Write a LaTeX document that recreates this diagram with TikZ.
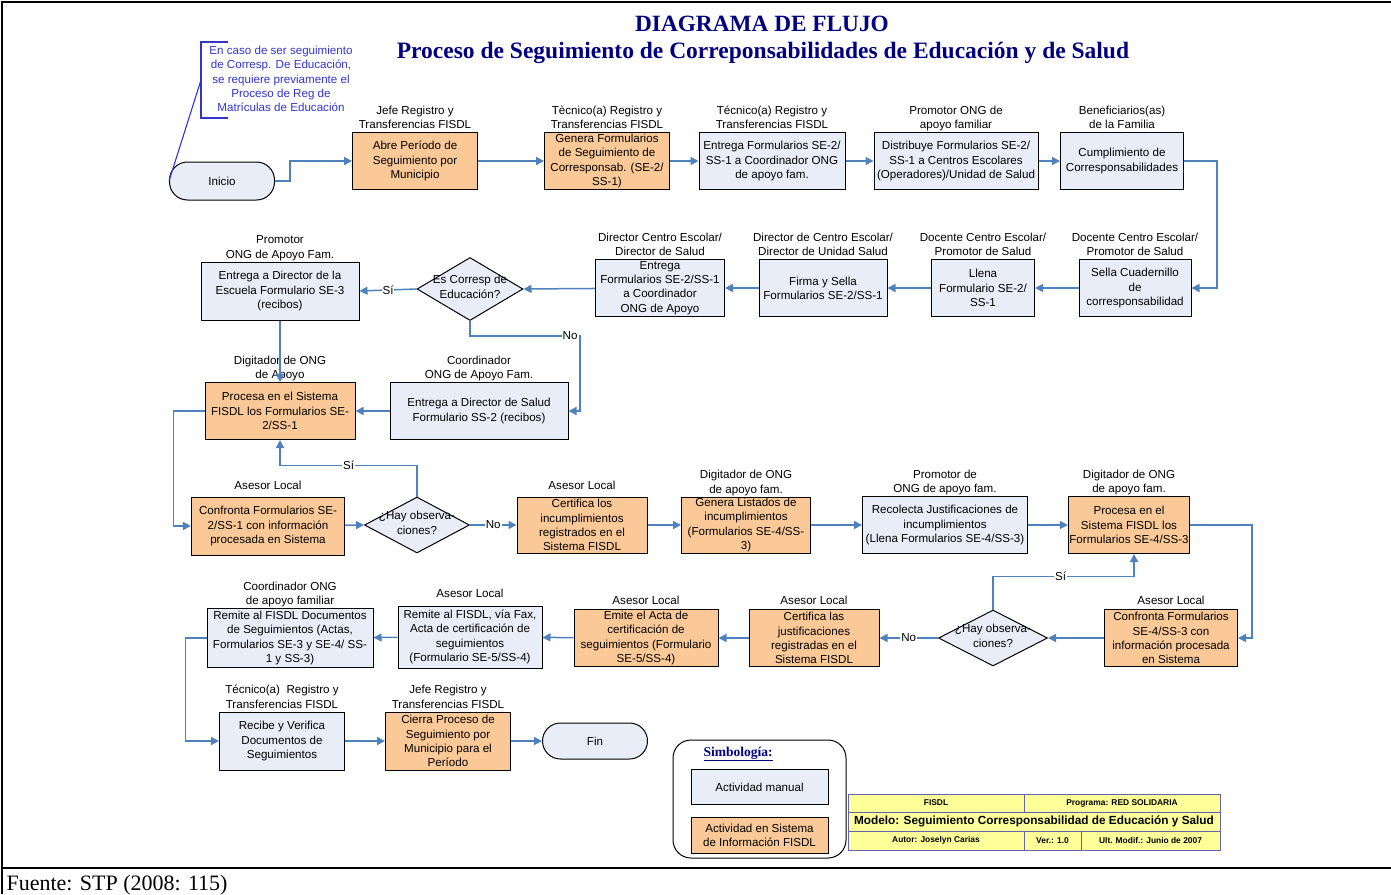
\documentclass[tikz,border=0pt]{standalone}
\usepackage{fontspec}
\setmainfont{Liberation Sans}
\newfontfamily\serifa{Liberation Serif}
\usetikzlibrary{arrows.meta, shapes.geometric}

\definecolor{celeste}{HTML}{E8EDF7}
\definecolor{naranja}{HTML}{FBC997}
\definecolor{azulflecha}{HTML}{4F81BD}
\definecolor{azulnota}{HTML}{3434C8}
\definecolor{marino}{HTML}{000080}
\definecolor{amarillo}{HTML}{FFFF99}
\definecolor{bordetabla}{HTML}{6464AA}

\begin{document}
\begin{tikzpicture}[
                > = {Triangle[length = 8pt, width = 8pt]}, % arrow head style
                x = 1pt, y = -1pt, % one unit per pixel, y going down
                label distance = -1pt, % roles sit right on the boxes
                every label/.style = {align = center, inner sep = 0pt,
                font = {\fontsize{11.6}{14.3}\selectfont},
                execute at end node = {\strut}}
            ]

            \useasboundingbox (0,0) rectangle (1391,894);

            \tikzstyle{caja}=[draw = black, line width = 1pt, rectangle,
            align = center, inner sep = 1pt, font = {\fontsize{11.6}{14.3}\selectfont}]
            \tikzstyle{manual}=[caja, fill = celeste]
            \tikzstyle{sistema}=[caja, fill = naranja]
            \tikzstyle{terminal}=[caja, fill = celeste, rounded corners = 18pt,
            minimum width = 105pt]
            \tikzstyle{decision}=[draw = black, line width = 1pt, diamond,
            fill = celeste, inner sep = 0pt]
            \tikzstyle{pregunta}=[execute at end node = {}]
            \tikzstyle{flujo}=[->, draw = azulflecha, line width = 1.5pt]
            \tikzstyle{etiqueta}=[fill = white, inner sep = 1pt,
            font = {\fontsize{11.6}{14.3}\selectfont}]
            \tikzstyle{celda}=[draw = bordetabla, line width = 1pt, fill = amarillo,
            inner sep = 0pt, font = {\bfseries\fontsize{8.4}{10}\selectfont}]
            \tikzstyle{nota}=[draw = azulnota, line width = 1.1pt]

            % frame, title and source
            \draw[line width = 1.2pt] (1391,2) -- (2,2) -- (2,894); \draw[line width = 1.4pt] (2,868) -- (1391,868);
            \node (t1) [font = {\serifa\bfseries\fontsize{23.3}{26}\selectfont}, text = marino] at (762,24) {DIAGRAMA DE FLUJO};
            \node (t2) [font = {\serifa\bfseries\fontsize{23.5}{26}\selectfont}, text = marino] at (763,53)
            {Proceso de Seguimiento de Correponsabilidades de Educación y de Salud};
            \node (f) [anchor = base west, font = {\serifa\fontsize{22}{24}\selectfont}] at (3,890) {Fuente: STP (2008: 115)};

            % note
            \node (0) [align = center, text = azulnota, font = {\fontsize{11.6}{14.3}\selectfont}] at (281,79)
            {En caso de ser seguimiento\\de Corresp. De Educación,\\se requiere previamente el\\Proceso de Reg de\\Matrículas de Educación};
            \draw[nota] (228,42) -- (201,42) -- (201,118) -- (228,118);
            \coordinate (n0) at (201,80);

            % first row
            \node (1) [terminal, minimum height = 38pt] at (222,181) {Inicio};
            \node (2) [sistema, minimum width = 125pt, minimum height = 57pt,
            label = {above:{Jefe Registro y\\Transferencias FISDL}}] at (415,161)
            {Abre Período de\\Seguimiento por\\Municipio};
            \node (3) [sistema, minimum width = 125pt, minimum height = 57pt,
            label = {above:{Tècnico(a) Registro y\\Transferencias FISDL}}] at (607,161)
            {Genera Formularios\\de Seguimiento de\\Corresponsab. (SE-2/\\SS-1)};
            \node (4) [manual, minimum width = 146pt, minimum height = 57pt,
            label = {above:{Técnico(a) Registro y\\Transferencias FISDL}}] at (772,161)
            {Entrega Formularios SE-2/\\SS-1 a Coordinador ONG\\de apoyo fam.};
            \node (5) [manual, minimum width = 164pt, minimum height = 57pt,
            label = {above:{Promotor ONG de\\apoyo familiar}}] at (956,161)
            {Distribuye Formularios SE-2/\\SS-1 a Centros Escolares\\(Operadores)/Unidad de Salud};
            \node (6) [manual, minimum width = 123pt, minimum height = 57pt,
            label = {above:{Beneficiarios(as)\\de la Familia}}] at (1122,161)
            {Cumplimiento de\\Corresponsabilidades};

            % second row
            \node (7) [manual, minimum width = 112pt, minimum height = 57pt,
            label = {above:{Docente Centro Escolar/\\Promotor de Salud}}] at (1135,288)
            {Sella Cuadernillo\\de\\corresponsabilidad};
            \node (8) [manual, minimum width = 103pt, minimum height = 57pt,
            label = {above:{Docente Centro Escolar/\\Promotor de Salud}}] at (983,288)
            {Llena\\Formulario SE-2/\\SS-1};
            \node (9) [manual, minimum width = 128pt, minimum height = 57pt,
            label = {above:{Director de Centro Escolar/\\Director de Unidad Salud}}] at (823,288)
            {Firma y Sella\\Formularios SE-2/SS-1};
            \node (10) [manual, minimum width = 129pt, minimum height = 57pt,
            label = {above:{Director Centro Escolar/\\Director de Salud}}] at (660,288)
            {Entrega\\Formularios SE-2/SS-1\\a Coordinador\\ONG de Apoyo};
            \node (11) [decision, minimum width = 106pt, minimum height = 63pt,
            label = {[pregunta]center:{Es Corresp de\\Educación?}}] at (470,289) {};
            \node (12) [manual, minimum width = 158pt, minimum height = 58pt,
            label = {above:{Promotor\\ONG de Apoyo Fam.}}] at (280,291)
            {Entrega a Director de la\\Escuela Formulario SE-3\\(recibos)};

            % third row
            \node (13) [sistema, minimum width = 150pt, minimum height = 57pt,
            label = {above:{Digitador de ONG\\de Apoyo}}] at (280,411)
            {Procesa en el Sistema\\FISDL los Formularios SE-\\2/SS-1};
            \node (14) [manual, minimum width = 178pt, minimum height = 57pt,
            label = {above:{Coordinador\\ONG de Apoyo Fam.}}] at (479,411)
            {Entrega a Director de Salud\\Formulario SS-2 (recibos)};

            % fourth row
            \node (15) [sistema, minimum width = 153pt, minimum height = 58pt,
            label = {[label distance = 3pt]above:{Asesor Local}}] at (268,526)
            {Confronta Formularios SE-\\2/SS-1 con información\\procesada en Sistema};
            \node (16) [decision, minimum width = 105pt, minimum height = 56pt,
            label = {[pregunta]center:{¿Hay observa-\\ciones?}}] at (417,525) {};
            \node (17) [sistema, minimum width = 130pt, minimum height = 56pt,
            label = {[label distance = 3pt]above:{Asesor Local}}] at (582,525)
            {Certifica los\\incumplimientos\\registrados en el\\Sistema FISDL};
            \node (18) [sistema, minimum width = 129pt, minimum height = 56pt,
            label = {above:{Digitador de ONG\\de apoyo fam.}}] at (746,525)
            {Genera Listados de\\incumplimientos\\(Formularios SE-4/SS-\\3)};
            \node (19) [manual, minimum width = 165pt, minimum height = 57pt,
            label = {above:{Promotor de\\ONG de apoyo fam.}}] at (945,525)
            {Recolecta Justificaciones de\\incumplimientos\\(Llena Formularios SE-4/SS-3)};
            \node (20) [sistema, minimum width = 118pt, minimum height = 57pt,
            label = {above:{Digitador de ONG\\de apoyo fam.}}] at (1129,525)
            {Procesa en el\\Sistema FISDL los\\Formularios SE-4/SS-3};

            % fifth row
            \node (21) [sistema, minimum width = 133pt, minimum height = 57pt,
            label = {[label distance = 0pt]above:{Asesor Local}}] at (1171,638)
            {Confronta Formularios\\SE-4/SS-3 con\\información procesada\\en Sistema};
            \node (22) [decision, minimum width = 109pt, minimum height = 56pt,
            label = {[pregunta]center:{¿Hay observa-\\ciones?}}] at (993,638) {};
            \node (23) [sistema, minimum width = 130pt, minimum height = 57pt,
            label = {[label distance = 0pt]above:{Asesor Local}}] at (814,638)
            {Certifica las\\justificaciones\\registradas en el\\Sistema FISDL};
            \node (24) [sistema, minimum width = 144pt, minimum height = 57pt,
            label = {[label distance = 0pt]above:{Asesor Local}}] at (646,638)
            {Emite el Acta de\\certificación de\\seguimientos (Formulario\\SE-5/SS-4)};
            \node (25) [manual, minimum width = 144pt, minimum height = 62pt,
            label = {[label distance = 4pt]above:{Asesor Local}}] at (470,637)
            {Remite al FISDL, vía Fax,\\Acta de certificación de\\seguimientos\\(Formulario SE-5/SS-4)};
            \node (26) [manual, minimum width = 166pt, minimum height = 59pt,
            label = {above:{Coordinador ONG\\de apoyo familiar}}] at (290,638)
            {Remite al FISDL Documentos\\de Seguimientos (Actas,\\Formularios SE-3 y SE-4/ SS-\\1 y SS-3)};

            % last row
            \node (27) [manual, minimum width = 125pt, minimum height = 58pt,
            label = {above:{Técnico(a)~~Registro y\\Transferencias FISDL}}] at (282,741)
            {Recibe y Verifica\\Documentos de\\Seguimientos};
            \node (28) [sistema, minimum width = 125pt, minimum height = 58pt,
            label = {above:{Jefe Registro y\\Transferencias FISDL}}] at (448,741)
            {Cierra Proceso de\\Seguimiento por\\Municipio para el\\Período};
            \node (29) [terminal, minimum height = 36pt] at (595,741) {Fin};

            % legend
            \node (30) [draw = black, line width = 1pt, rounded corners = 18pt,
            minimum width = 173pt, minimum height = 118pt] at (759.5,799) {};
            \node (31) [text = marino, font = {\serifa\bfseries\fontsize{13.5}{16}\selectfont}] at (738,754)
            {\underline{Simbología:}};
            \node (32) [manual, minimum width = 137pt, minimum height = 35pt] at (759.5,787) {Actividad manual};
            \node (33) [sistema, minimum width = 137pt, minimum height = 36pt] at (759.5,835)
            {Actividad en Sistema\\de Información FISDL};

            % title block
            \node (40) [celda, minimum width = 176pt, minimum height = 18pt] at (936,803) {FISDL};
            \node (41) [celda, minimum width = 196pt, minimum height = 18pt] at (1122,803) {Programa: RED SOLIDARIA};
            \node (42) [celda, minimum width = 372pt, minimum height = 19pt,
            font = {\bfseries\fontsize{11.8}{13}\selectfont}] at (1034,821.5)
            {Modelo: Seguimiento Corresponsabilidad de Educación y Salud};
            \node (43) [celda, minimum width = 176pt, minimum height = 19pt] at (936,840.5) {Autor: Joselyn Carias};
            \node (44) [celda, minimum width = 57pt, minimum height = 19pt] at (1052.5,840.5) {Ver.: 1.0};
            \node (45) [celda, minimum width = 139pt, minimum height = 19pt] at (1150.5,840.5) {Ult. Modif.: Junio de 2007};

            % connectors
            \draw[nota] (n0) -- (1.west);
            \draw[flujo] (1.east) -- ++(15,0) |- (2.west);
            \path (2) edge[flujo] (3); \path (3) edge[flujo] (4); \path (4) edge[flujo] (5);
            \path (5) edge[flujo] (6);
            \draw[flujo] (6.east) -- ++(33,0) |- (7.east);
            \path (7) edge[flujo] (8); \path (8) edge[flujo] (9); \path (9) edge[flujo] (10);
            \path (10) edge[flujo] (11.east);
            \path (11.west) edge[flujo] node[etiqueta] {Sí} (12.east);
            \draw[flujo] (11.south) |- node[etiqueta, pos = 0.955] {No} (580,336) |- (14.east);
            \path (12.south) edge[flujo] (13.north); \path (14) edge[flujo] (13);
            \draw[flujo] (13.west) -- ++(-31,0) |- (15.west);
            \path (15) edge[flujo] (16.west);
            \draw[flujo] (16.north) -- ++(0,-31) -| node[etiqueta, pos = 0.25] {Sí} (13.south);
            \path (16.east) edge[flujo] node[etiqueta] {No} (17);
            \path (17) edge[flujo] (18); \path (18) edge[flujo] (19); \path (19) edge[flujo] (20);
            \draw[flujo] (20.east) -- ++(62,0) |- (21.east);
            \path (21) edge[flujo] (22.east);
            \draw[flujo] (22.north) -- ++(0,-33) -| node[etiqueta, pos = 0.24] {Sí} ([xshift = 5pt]20.south);
            \path (22.west) edge[flujo] node[etiqueta] {No} (23);
            \path (23) edge[flujo] (24); \path (24) edge[flujo] (25); \path (25) edge[flujo] (26);
            \draw[flujo] (26.west) -- ++(-21,0) |- (27.west);
            \path (27) edge[flujo] (28); \path (28) edge[flujo] (29);

        \end{tikzpicture}
\end{document}
